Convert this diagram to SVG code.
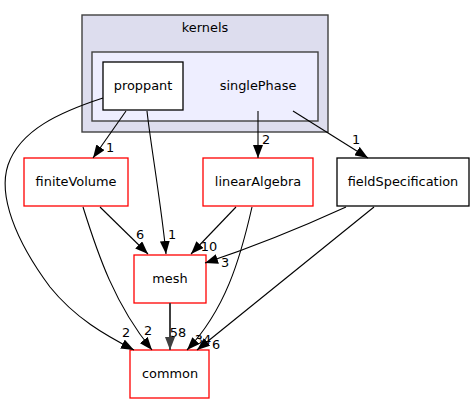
<svg xmlns="http://www.w3.org/2000/svg" width="475" height="404" viewBox="0 0 475 404">
<defs>
<style>
text{font-family:"DejaVu Sans","Liberation Sans",sans-serif;font-size:12.9px;fill:#000;text-anchor:middle}
.cl{stroke:#404040;stroke-width:1.4}
.node{fill:#fff;stroke-width:1.3}
.red{stroke:#ff0000}
.blk{stroke:#000}
.e{fill:none;stroke:#000;stroke-width:1.1}
.thick{fill:none;stroke:#404040;stroke-width:2}
</style>
<marker id="a" markerWidth="14" markerHeight="10" refX="13" refY="5" orient="auto" markerUnits="userSpaceOnUse"><path d="M0,0 L13,5 L0,10 z" fill="#000"/></marker>
<marker id="g" markerWidth="14" markerHeight="10" refX="13" refY="5" orient="auto" markerUnits="userSpaceOnUse"><path d="M0,0 L13,5 L0,10 z" fill="#404040"/></marker>
</defs>
<rect width="475" height="404" fill="#fff"/>
<g id="cluster_kernels">
<rect class="cl" x="82" y="15" width="246" height="117" fill="#ddddee"/>
<text x="205" y="32">kernels</text>
</g>
<g id="cluster_singlePhase">
<rect class="cl" x="92" y="52" width="226" height="69" fill="#eeeeff"/>
<text x="258" y="90">singlePhase</text>
</g>
<g id="node_proppant">
<rect class="node blk" x="103" y="62" width="80" height="48"/>
<text x="143" y="90">proppant</text>
</g>
<g id="node_finiteVolume">
<rect class="node red" x="24" y="158" width="104" height="48"/>
<text x="76" y="186">finiteVolume</text>
</g>
<g id="node_linearAlgebra">
<rect class="node red" x="203" y="158" width="110" height="48"/>
<text x="258" y="186">linearAlgebra</text>
</g>
<g id="node_fieldSpecification">
<rect class="node blk" x="337" y="158" width="132" height="48"/>
<text x="403" y="186">fieldSpecification</text>
</g>
<g id="node_mesh">
<rect class="node red" x="134" y="255" width="72" height="48"/>
<text x="170" y="283">mesh</text>
</g>
<g id="node_common">
<rect class="node red" x="130" y="350" width="79" height="48"/>
<text x="170" y="378">common</text>
</g>
<g id="connectors">
<path class="e" d="M126,111 L93,158" marker-end="url(#a)"/>
<text x="110" y="152">1</text>
<path class="e" d="M147,111 C150,140 162,210 166,254" marker-end="url(#a)"/>
<text x="172" y="239">1</text>
<path class="e" d="M103,98 C60,112 20,130 8,165 C-2,195 15,240 50,287 C75,318 105,335 134,350" marker-end="url(#a)"/>
<text x="126" y="337">2</text>
<path class="e" d="M258,111 L258,158" marker-end="url(#a)"/>
<text x="266" y="144">2</text>
<path class="e" d="M293,111 L368,158" marker-end="url(#a)"/>
<text x="356" y="144">1</text>
<path class="e" d="M100,207 L148,254" marker-end="url(#a)"/>
<text x="140" y="239">6</text>
<path class="e" d="M83,207 C98,255 115,305 152,350" marker-end="url(#a)"/>
<text x="148" y="335">2</text>
<path class="e" d="M236,207 L191,254" marker-end="url(#a)"/>
<text x="209" y="251">10</text>
<path class="e" d="M252,207 C240,260 225,310 187,350" marker-end="url(#a)"/>
<text x="203" y="344">34</text>
<path class="e" d="M346,207 C300,228 250,248 205,263" marker-end="url(#a)"/>
<text x="225" y="267">3</text>
<path class="e" d="M374,207 L197,350" marker-end="url(#a)"/>
<text x="216" y="349">6</text>
<path class="thick" d="M170,303 L170,350" marker-end="url(#g)"/>
<text x="178" y="337">58</text>
</g>
</svg>
